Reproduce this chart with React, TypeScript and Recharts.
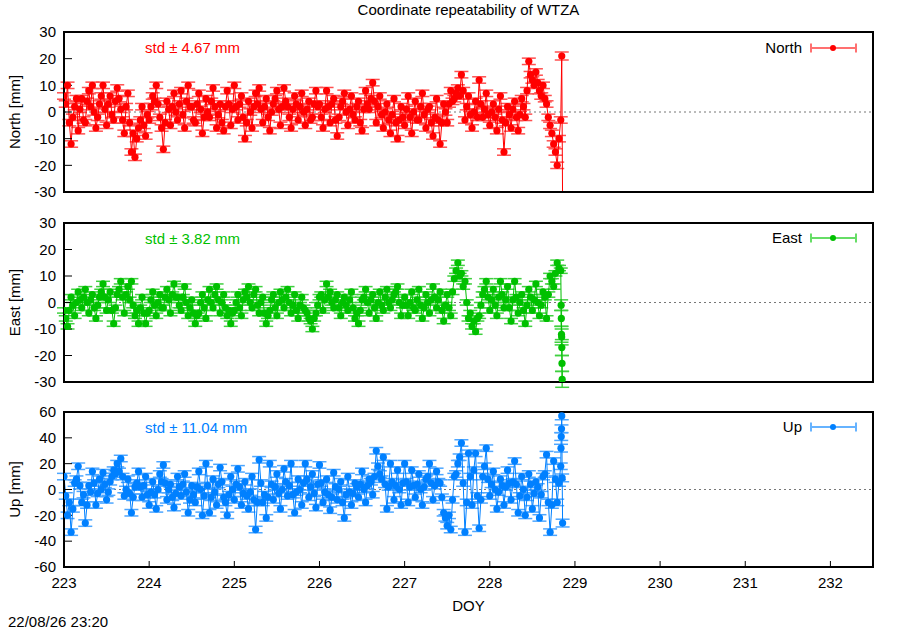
import React from 'react';
import { ComposedChart, Line, XAxis, YAxis, ErrorBar, ReferenceLine } from 'recharts';

// half-hourly solutions, first epoch at DOY 223.000
const START_DOY = 223;
const STEP = 1 / 48;

// North [mm], one row per day
const northValues = [
  6, 3, 10, -4, -12, -2, 2, 5, -7, 1, 5, -3, -4, 4, 8, 2, 10, 0, -6, -2, 3, 6, 10, 1, -5, 3, 6, -1, -3, 4, 9, 5, 1, -3, -8, 2, 7, -4, -15, -8, -17, -10, -6, -3, 2, -5, -9, -1,
  -3, 2, 6, 4, 10, 3, -2, -6, -14, -4, 4, 1, -5, 2, 7, 0, -3, 3, 8, -1, -6, 4, 10, 2, 2, -3, -4, 3, 7, 1, -8, -2, 5, 0, -2, 4, 9, 2, -6, -1, 3, -4, -7, 2, 8, 3, -5, 1,
  10, 2, -3, 3, 6, -2, -10, -4, 4, 0, -6, 2, 7, 3, 9, 1, -4, 2, 5, -2, -7, 0, 3, 5, 8, 1, -5, 2, 9, 4, 2, -2, -6, 1, 6, 3, -3, 2, 7, 0, -5, 1, 4, -3, -2, 3, 8, 2,
  3, -2, -6, 1, 8, 2, -4, 3, 5, -3, -9, -2, 2, 4, 7, 0, -5, 1, 6, -1, -3, 2, 4, -4, -7, 1, 8, 3, 1, 5, 11, 4, -4, 2, 6, -1, -6, 0, 3, -3, -8, -1, 5, -4, -10, -3, 2, -2,
  -5, 1, 6, -2, -8, 0, 4, -3, -3, 2, 7, -1, -6, 1, 2, -4, -9, -2, 5, -3, -12, -4, 3, 0, -4, 3, 8, 4, 5, 7, 9, 6, 14, 8, -3, 2, 6, -1, -6, 0, 4, -2, 12, 3, -2, 1, 7, -1,
  -5, 0, 3, -2, -7, 1, 6, -3, -15, -4, 2, -1, -6, 1, 4, -2, -7, -1, 5, 2, -2, 8, 19, 14, 12, 10, 15, 11, 8, 6, 10, 5, 3, -2, -5, -8, -12, -15, -20, -10, -3,
];

// East [mm]
const eastValues = [
  -3, -6, -9, -3, 2, -1, -5, 0, 4, 1, -2, 2, 5, 0, -4, 1, 3, -2, -6, -1, 2, 4, 7, 2, -3, 1, 4, -3, -8, -2, 3, 5, 8, 2, -4, 3, 6, 1, 8, -1, -5, -3, -8, -2, 2, -4, -8, -4,
  -3, 1, 4, -1, -5, 0, 3, -2, -2, 2, 5, 1, -4, 3, 7, 2, 2, -1, -3, 2, 6, 0, -5, -2, 1, -4, -8, -5, -4, 0, 3, -2, -6, 1, 5, 0, -2, 3, 6, 1, -4, 0, 3, -2, -5, -3, -8, -4,
  -3, 0, 3, -2, -5, 1, 4, 2, 6, 0, -2, 3, 5, -1, -4, 0, 2, -4, -8, -5, -3, 1, 3, -2, -5, 0, 4, 1, -2, 2, 5, 0, -4, -1, 3, -3, -6, -1, 2, -2, -3, -4, -6, -7, -10, -6, -4, -1,
  2, 3, -3, 1, 7, 2, 4, 0, -2, 1, 3, -2, -5, 0, 2, -1, -3, 1, 4, -2, -6, -4, -8, -3, 1, 2, 5, 0, -4, 1, 3, -2, -6, 0, 4, -1, -3, 2, 5, 0, -2, 1, 3, 4, 6, 0, -5, -1,
  2, -1, -5, 0, 4, -2, -3, 1, 5, -1, -6, -2, 3, 0, -4, 1, 6, 2, -2, 1, 4, -3, -7, -1, 3, -2, -5, 4, 9, 12, 15, 10, 11, 6, 8, 0, -6, -4, -9, -7, -11, -6, -5, -1, 3, 5, 8, 2,
  -3, 1, 5, -1, -5, 2, 8, 3, -2, 1, 6, -2, -7, 1, 8, 2, -4, 0, 3, -3, -8, -1, 5, 2, -3, 1, 7, 0, -5, -1, 4, 2, -6, 3, 10, 8, 6, 11, 15, 13, 12,
];

// Up [mm]
const upValues = [
  10, -5, -20, -10, -33, -15, 5, 8, 18, 3, -10, -4, -26, -12, 3, -2, 14, 5, -12, -3, 8, 0, 13, 4, -8, -2, 6, 10, 15, 12, 20, 14, 24, 10, -5, 0, 8, -3, -18, -6, 2, 5, 14, 2, -6, 3, 10, -4,
  -12, -2, 6, -4, -15, 0, 12, 6, 19, 5, -8, 0, 4, -6, -14, -3, 10, 2, -5, 4, 12, -2, -18, -8, 3, -4, -10, 2, 14, 0, -20, -5, 20, 3, -18, -6, 8, -2, -12, 4, 17, 6, -6, -10, -20, -4, 10, 0,
  -8, 4, 16, 2, -12, -3, 6, -5, -15, -2, 10, -8, -31, -10, 23, 5, -10, -4, -22, -6, 20, 4, -8, 2, 12, -3, -15, 0, 16, 6, -5, 3, 20, -4, -18, -2, 8, 0, -12, 5, 20, 8, -6, 2, 12, -3, -14, 4,
  19, 5, -10, -2, 8, -4, -16, -6, 13, 2, -8, 0, 6, -10, -22, -4, 10, -2, -12, -3, 5, 2, -6, 4, 14, 0, -10, 3, 8, 6, -4, 10, 30, 18, 12, 8, 25, 4, -15, 2, 20, 6, -8, 3, 15, 0, -12, 5,
  20, 6, -10, 2, 15, 3, -6, 4, 12, 0, -12, 2, 8, 10, 20, 5, -8, 3, 14, 6, 5, -6, -18, -22, -28, -20, -31, -8, 10, 12, 20, 25, 36, 5, -33, -10, 28, 10, -12, 15, 28, -5, -30, -8, 10, 18, 32, 8,
  -5, 4, 14, 0, -15, -2, 8, 3, -12, 2, 15, 5, -8, 6, 22, 4, -18, -5, 10, 0, -20, -6, 12, 4, -15, -3, 6, 2, -22, -4, 10, 12, 27, -10, -33, -12, 22, 8, -10, 5, 18,
];

// typical formal errors of the solutions [mm]
const NORTH_ERR = 1.2;
const EAST_ERR = 1.0;
const UP_ERR = 2.5;

// last solutions before the gap, irregular epochs
const northTailDoy = [228.845, 228.856];
const northTail = [21, -40];
const northTailErr = [1.5, 1.5];

const eastTailDoy = [228.838, 228.84, 228.842, 228.844, 228.846, 228.848, 228.85];
const eastTail = [-1, -6, -12, -13, -17, -23, -29];
const eastTailErr = [2, 3, 3, 3, 3, 3, 3];

const upTailDoy = [228.836, 228.839, 228.842, 228.845, 228.85, 228.855];
const upTail = [32, 41, 47, 57, 9, -26];
const upTailErr = [3, 3, 3, 3, 3, 3];

const xTicks = [223, 224, 225, 226, 227, 228, 229, 230, 231, 232];
const neTicks = [-30, -20, -10, 0, 10, 20, 30];
const upTicks = [-60, -40, -20, 0, 20, 40, 60];

const FONT = '"Liberation Sans", Arial, Helvetica, sans-serif';

type Row = { doy: number; v: number; err: number };

function buildRows(values: number[], err: number, tailDoy: number[], tail: number[], tailErr: number[]): Row[] {
  const rows: Row[] = values.map((v, i) => ({ doy: START_DOY + i * STEP, v, err }));
  tailDoy.forEach((d, i) => rows.push({ doy: d, v: tail[i], err: tailErr[i] }));
  return rows;
}

const northRows = buildRows(northValues, NORTH_ERR, northTailDoy, northTail, northTailErr);
const eastRows = buildRows(eastValues, EAST_ERR, eastTailDoy, eastTail, eastTailErr);
const upRows = buildRows(upValues, UP_ERR, upTailDoy, upTail, upTailErr);

const frame = { stroke: '#000', strokeWidth: 2, strokeLinecap: 'square' as const };
const tickLine = { stroke: '#000', strokeWidth: 1 };
const tickText = { fill: '#000', fontSize: 15, fontFamily: FONT };

interface PanelProps {
  rows: Row[];
  name: string;
  color: string;
  light: string;
  yDomain: [number, number];
  yTicks: number[];
  yLabel: string;
  bottom?: boolean;
  top: number;
  height: number;
  marginTop: number;
  marginBottom: number;
}

const Panel: React.FC<PanelProps> = ({ rows, name, color, light, yDomain, yTicks, yLabel, bottom, top, height, marginTop, marginBottom }) => (
  <div style={{ position: 'absolute', left: 0, top }}>
    <ComposedChart width={900} height={height} data={rows} margin={{ top: marginTop, right: 26, bottom: marginBottom, left: 8 }}>
      <XAxis
        xAxisId="b"
        type="number"
        dataKey="doy"
        domain={[223, 232.5]}
        ticks={xTicks}
        interval={0}
        allowDataOverflow
        height={bottom ? 50 : 1}
        tick={bottom ? tickText : false}
        tickLine={bottom ? tickLine : false}
        tickSize={-6}
        tickMargin={16}
        axisLine={frame}
        label={bottom ? { value: 'DOY', position: 'insideBottom', offset: 6, style: { fontSize: 15, fill: '#000', fontFamily: FONT } } : undefined}
      />
      <XAxis
        xAxisId="t"
        orientation="top"
        type="number"
        dataKey="doy"
        domain={[223, 232.5]}
        ticks={xTicks}
        interval={0}
        allowDataOverflow
        height={1}
        tick={false}
        tickLine={bottom ? tickLine : false}
        tickSize={-7}
        axisLine={frame}
      />
      <YAxis
        yAxisId="l"
        type="number"
        domain={yDomain}
        ticks={yTicks}
        interval={0}
        allowDataOverflow
        width={56}
        tick={tickText}
        tickLine={tickLine}
        tickSize={-8}
        tickMargin={16}
        axisLine={frame}
        label={{ value: yLabel, angle: -90, position: 'insideLeft', offset: 7, style: { textAnchor: 'middle', fontSize: 15, fill: '#000', fontFamily: FONT } }}
      />
      <YAxis
        yAxisId="r"
        orientation="right"
        type="number"
        domain={yDomain}
        ticks={yTicks}
        interval={0}
        allowDataOverflow
        width={1}
        tick={false}
        tickLine={tickLine}
        tickSize={-8}
        axisLine={frame}
      />
      <ReferenceLine xAxisId="b" yAxisId="l" y={0} stroke="#777" strokeWidth={1} strokeDasharray="2 3" />
      <Line
        xAxisId="b"
        yAxisId="l"
        type="linear"
        dataKey="v"
        name={name}
        stroke={color}
        strokeWidth={1}
        dot={{ r: 3.6, fill: color, stroke: 'none' }}
        activeDot={false}
        isAnimationActive={false}
      >
        <ErrorBar dataKey="err" direction="y" width={7} stroke={light} strokeWidth={1.5} />
      </Line>
    </ComposedChart>
  </div>
);

const LegendKey: React.FC<{ label: string; color: string; light: string; top: number }> = ({ label, color, light, top }) => (
  <>
    <div style={{ position: 'absolute', right: 98, top: top - 9, fontSize: 15, lineHeight: '18px', color: '#000' }}>{label}</div>
    <svg style={{ position: 'absolute', left: 808, top: top - 6 }} width={50} height={12}>
      <line x1={3} y1={6} x2={48} y2={6} stroke={light} strokeWidth={2} />
      <line x1={3} y1={1.5} x2={3} y2={10.5} stroke={light} strokeWidth={2} />
      <line x1={48} y1={1.5} x2={48} y2={10.5} stroke={light} strokeWidth={2} />
      <circle cx={25} cy={6} r={3} fill={color} />
    </svg>
  </>
);

const StdText: React.FC<{ text: string; color: string; top: number }> = ({ text, color, top }) => (
  <div style={{ position: 'absolute', left: 145, top: top - 9, fontSize: 15, lineHeight: '18px', color }}>{text}</div>
);

export default function App() {
  return (
    <div style={{ position: 'absolute', left: 0, top: 0, width: 900, height: 630, background: '#fff', fontFamily: FONT, overflow: 'hidden' }}>
      <Panel rows={northRows} name="North" color="#ff0000" light="#ff5050" yDomain={[-30, 30]} yTicks={neTicks}
        yLabel="North [mm]" top={0} height={200} marginTop={31} marginBottom={7} />
      <Panel rows={eastRows} name="East" color="#00c000" light="#40d040" yDomain={[-30, 30]} yTicks={neTicks}
        yLabel="East [mm]" top={200} height={190} marginTop={22} marginBottom={7} />
      <Panel rows={upRows} name="Up" color="#0080ff" light="#4da6ff" yDomain={[-60, 60]} yTicks={upTicks}
        yLabel="Up [mm]" bottom top={390} height={240} marginTop={21} marginBottom={13} />

      <div style={{ position: 'absolute', left: 64, width: 809, top: 1, textAlign: 'center', fontSize: 15, lineHeight: '18px', color: '#000' }}>
        Coordinate repeatability of WTZA
      </div>

      <StdText text="std ± 4.67 mm" color="#ff0000" top={48} />
      <StdText text="std ± 3.82 mm" color="#00c000" top={239} />
      <StdText text="std ± 11.04 mm" color="#0080ff" top={428} />

      <LegendKey label="North" color="#ff0000" light="#ff7070" top={48} />
      <LegendKey label="East" color="#00c000" light="#66dd66" top={238} />
      <LegendKey label="Up" color="#0080ff" light="#66b3ff" top={427} />

      <div style={{ position: 'absolute', left: 8, top: 613, fontSize: 15, lineHeight: '18px', color: '#000' }}>22/08/26 23:20</div>
    </div>
  );
}
